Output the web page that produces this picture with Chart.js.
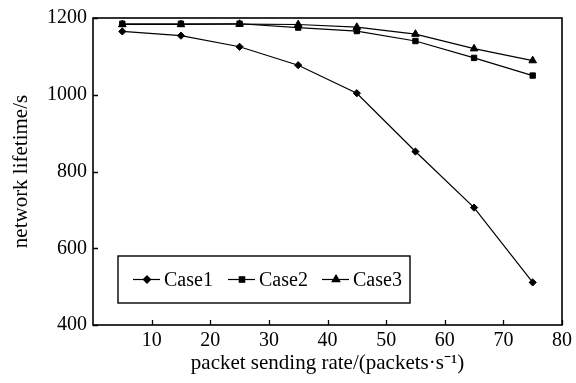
<!DOCTYPE html>
<html>
<head>
<meta charset="utf-8">
<script src="https://cdn.jsdelivr.net/npm/chart.js@4"></script>
<style>
  html, body { margin: 0; padding: 0; background: #fff; }
</style>
</head>
<body>
<canvas id="lifeChart" width="576" height="383"></canvas>
<script>
// values
const rates = [5, 15, 25, 35, 45, 55, 65, 75];
const case1 = [1165, 1154, 1125, 1077, 1004, 852, 706, 511];
const case2 = [1185, 1185, 1185, 1175, 1166, 1140, 1096, 1050];
const case3 = [1183, 1183, 1184, 1183, 1176, 1158, 1120, 1089];
const seriesNames = ['Case1', 'Case2', 'Case3'];
const xTickValues = [10, 20, 30, 40, 50, 60, 70, 80];
const yTickValues = [400, 600, 800, 1000, 1200];

const serif = 'Liberation Serif, Times New Roman, serif';

function makeSet(name, values, shape, r) {
    return {
        label: name,
        data: rates.map((x, i) => ({ x: x, y: values[i] })),
        borderColor: '#000',
        backgroundColor: '#000',
        borderWidth: 1.2,
        pointStyle: shape,
        pointRadius: r,
        pointBorderWidth: 1,
        tension: 0
    };
}

// frame, inward tick marks and the boxed legend inside the plot
const framePlugin = {
    id: 'frame',
    afterDraw(chart) {
        const ctx = chart.ctx;
        const a = chart.chartArea;
        const xs = chart.scales.x, ys = chart.scales.y;
        ctx.save();
        ctx.strokeStyle = '#000';
        ctx.lineWidth = 1.6;
        ctx.strokeRect(a.left, a.top, a.right - a.left, a.bottom - a.top);

        ctx.lineWidth = 1.3;
        ctx.beginPath();
        xTickValues.forEach(v => {
            const px = Math.round(xs.getPixelForValue(v)) + 0.5;
            ctx.moveTo(px, a.bottom);
            ctx.lineTo(px, a.bottom - 5);
        });
        yTickValues.forEach(v => {
            const py = Math.round(ys.getPixelForValue(v)) + 0.5;
            ctx.moveTo(a.left, py);
            ctx.lineTo(a.left + 5, py);
        });
        ctx.stroke();

        // legend box
        const bx = a.left + 25, by = a.bottom - 69, bw = 292, bh = 47;
        ctx.lineWidth = 1.4;
        ctx.strokeRect(bx, by, bw, bh);
        const cy = by + bh / 2;
        const starts = [bx + 15, bx + 110, bx + 204];
        ctx.font = '20px ' + serif;
        ctx.textBaseline = 'middle';
        ctx.fillStyle = '#000';
        chart.data.datasets.forEach((ds, i) => {
            const sx = starts[i];
            ctx.lineWidth = 1.2;
            ctx.beginPath();
            ctx.moveTo(sx, cy);
            ctx.lineTo(sx + 27, cy);
            ctx.stroke();
            Chart.helpers.drawPoint(ctx, { pointStyle: ds.pointStyle, radius: ds.pointRadius, borderWidth: 1 }, sx + 14, cy);
            ctx.fill();
            ctx.fillText(ds.label, sx + 31, cy + 1);
        });
        ctx.restore();
    }
};

const config = {
    type: 'line',
    data: {
        datasets: [
            makeSet(seriesNames[0], case1, 'rectRot', 3.6),
            makeSet(seriesNames[1], case2, 'rect', 3.8),
            makeSet(seriesNames[2], case3, 'triangle', 4.4)
        ]
    },
    options: {
        responsive: false,
        animation: false,
        layout: { padding: { left: 9, right: 13, top: 16, bottom: 7 } },
        plugins: {
            legend: { display: false },
            tooltip: { enabled: false }
        },
        scales: {
            x: {
                type: 'linear',
                min: 0,
                max: 80,
                afterFit(s) { s.height = 51; },
                afterBuildTicks(s) { s.ticks = [0].concat(xTickValues).map(v => ({ value: v })); },
                grid: { display: false, drawTicks: false },
                border: { display: false },
                ticks: {
                    padding: 4,
                    color: '#000',
                    font: { family: serif, size: 20 },
                    maxRotation: 0,
                    callback: v => (v === 0 ? '' : String(v))
                },
                title: {
                    display: true,
                    text: 'packet sending rate/(packets·s\u207B\u00B9)',
                    color: '#000',
                    font: { family: serif, size: 21 },
                    padding: 0
                }
            },
            y: {
                type: 'linear',
                min: 400,
                max: 1200,
                afterFit(s) { s.width = 84; },
                afterBuildTicks(s) { s.ticks = yTickValues.map(v => ({ value: v })); },
                grid: { display: false, drawTicks: false },
                border: { display: false },
                ticks: {
                    padding: 6,
                    color: '#000',
                    font: { family: serif, size: 20 },
                    callback: v => String(v)
                },
                title: {
                    display: true,
                    text: 'network lifetime/s',
                    color: '#000',
                    font: { family: serif, size: 21 },
                    padding: 0
                }
            }
        }
    },
    plugins: [framePlugin]
};

const lifeChart = new Chart(document.getElementById('lifeChart').getContext('2d'), config);
</script>
</body>
</html>
